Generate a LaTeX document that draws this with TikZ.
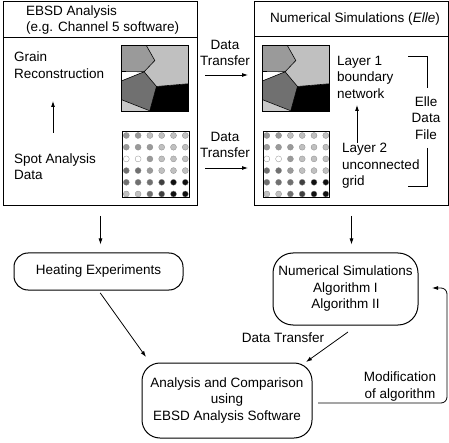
\documentclass[tikz,border=0pt]{standalone}
\usepackage{fontspec}
\setmainfont{Liberation Sans}
\usetikzlibrary{arrows.meta,calc}
\definecolor{cA}{HTML}{9A9A9A}
\definecolor{cB}{HTML}{C0C0C0}
\definecolor{cC}{HTML}{707070}
\definecolor{cD}{HTML}{101010}
\definecolor{cE}{HTML}{404040}
\definecolor{cF}{HTML}{C8C8C8}
\newcommand\grainpatch{%
  \fill[cA] (0,0) -- (24.7,0) -- (33,14.7) -- (22.3,26) -- (0,25.7) -- cycle;
  \fill[white] (0,25.7) -- (22.3,26) -- (0,35) -- cycle;
  \fill[cC] (22.3,26) -- (34.7,40.7) -- (28,65) -- (0,54) -- (0,35) -- cycle;
  \fill[black] (34.7,40.7) -- (66,38) -- (66,65) -- (28,65) -- cycle;
  \fill[cF] (0,54) -- (28,65) -- (0,65) -- cycle;
  \fill[cB] (24.7,0) -- (66,0) -- (66,38) -- (34.7,40.7) -- (22.3,26) -- (33,14.7) -- cycle;
  \draw[line width=0.6pt] (24.7,0) -- (33,14.7) -- (22.3,26) -- (0,35);
  \draw[line width=0.6pt] (0,25.7) -- (22.3,26) -- (34.7,40.7) -- (66,38);
  \draw[line width=0.6pt] (34.7,40.7) -- (28,65);
  \draw[line width=0.6pt] (0,54) -- (28,65);
}
\newcommand\dotpatch{%
  \foreach \row [count=\j from 0] in {{cA,cA,cB,cB,cB,cB},{cA,cA,cA,cB,cB,cB},{white,white,cA,cB,cB,cB},{cC,cC,cA,cB,cB,cB},{cC,cC,cC,cE,cD,cD},{cB,cB,cC,cE,cD,cD}}{
    \foreach \c [count=\i from 0] in \row {
      \filldraw[fill=\c, draw=black!45, line width=0.3pt] (3.5+11.8*\i, 3.7+11.7*\j) circle (3);
    }
  }
}
\begin{document}
\begin{tikzpicture}[x=1pt,y=-1pt,
  font=\fontsize{13.5}{16.5}\selectfont,
  bigbox/.style={draw, line width=1pt, minimum width=194pt, minimum height=204pt, inner sep=0pt, anchor=north west},
  rbox/.style={draw, line width=1pt, align=center, inner sep=0pt},
  arr/.style={-{Latex[length=6pt,width=4pt]}, line width=0.8pt},
  txt/.style={align=left, inner sep=0pt},
  img/.style={minimum width=66pt, minimum height=65pt, inner sep=0pt},
  frame/.style={draw, line width=1pt}]
\useasboundingbox (0,0) rectangle (449,443);

% big boxes
\node[bigbox] (L) at (3,1) {};
\node[bigbox] (R) at (254,1) {};
\draw[line width=1pt] (L.north west) ++(0,37) -- ++(194,0);
\draw[line width=1pt] (R.north west) ++(0,36) -- ++(194,0);

\node[txt, anchor=west] (hdrL) at (26,20) {EBSD Analysis\\(e.g. Channel 5 software)};
\node[inner sep=0pt] (hdrR) at (355,19) {Numerical Simulations (\textit{Elle})};

% images
\node[img] (g1) at (155,78.5) {};
\node[img] (d1) at (156,164.5) {};
\node[img] (g2) at (296,78.5) {};
\node[img] (d2) at (296.5,164.5) {};
\begin{scope}[shift={(g1.north west)}]\grainpatch\end{scope}
\begin{scope}[shift={(g2.north west)}]\grainpatch\end{scope}
\begin{scope}[shift={(d1.north west)}]\dotpatch\end{scope}
\begin{scope}[shift={(d2.north west)}]\dotpatch\end{scope}
\foreach \n in {g1,d1,g2,d2}{\draw[frame] (\n.north west) rectangle (\n.south east);}

% left box texts
\node[txt, anchor=west] (grain) at (14,65) {Grain\\Reconstruction};
\node[txt, anchor=west] (spot) at (14,166.5) {Spot Analysis\\Data};
\coordinate (ga) at (53,133);
\coordinate (gb) at (53,101);
\draw[arr] (ga) -- (gb);

% right box texts
\node[txt, anchor=west] (lay1) at (337,77) {Layer 1\\boundary\\network};
\node[txt, anchor=west] (lay2) at (342,166) {Layer 2\\unconnected\\grid};
\coordinate (la) at (357,143);
\coordinate (lb) at (357,105);
\draw[arr] (la) -- (lb);
\node[align=center, inner sep=0pt] (edf) at (426,118) {Elle\\Data\\File};
\coordinate (b1) at (408,56);
\coordinate (b2) at (427,88);
\coordinate (b3) at (427,148);
\coordinate (b4) at (408,186);
\draw[line width=0.8pt] (b1) -| (b2);
\draw[line width=0.8pt] (b3) |- (b4);

% data transfer between boxes
\node[align=center, inner sep=0pt] (dt1) at (225,53) {Data\\Transfer};
\node[align=center, inner sep=0pt] (dt2) at (225,145) {Data\\Transfer};
\coordinate (t1s) at (205,75);
\coordinate (t1e) at (248,75);
\coordinate (t2s) at (205,168);
\coordinate (t2e) at (248,168);
\draw[arr] (t1s) -- (t1e);
\draw[arr] (t2s) -- (t2e);

% lower boxes
\node[rbox, minimum width=169pt, minimum height=37pt, rounded corners=14pt] (heat) at (98.5,271.5) {Heating Experiments};
\node[rbox, minimum width=145pt, minimum height=72pt, rounded corners=20pt] (num) at (345.5,289) {Numerical Simulations\\Algorithm I\\Algorithm II};
\node[rbox, minimum width=170pt, minimum height=75pt, rounded corners=18pt] (ana) at (227,400.5) {Analysis and Comparison\\using\\EBSD Analysis Software};

\draw[arr, shorten <=10pt, shorten >=8pt] (L.south) -- (L.south |- heat.north);
\draw[arr, shorten <=10pt, shorten >=8pt] (R.south) -- (R.south |- num.north);

\coordinate (h2) at (146,357);
\draw[arr, shorten <=3pt] (heat.south) -- (h2);
\coordinate (n1) at (348,332);
\coordinate (n2) at (306,362);
\draw[arr] (n1) -- (n2);
\node[inner sep=0pt] (dtl) at (283,338) {Data Transfer};

\coordinate (m1) at (318,403);
\coordinate (m2) at (447,403);
\coordinate (m3) at (447,288);
\coordinate (m4) at (432,288);
\draw[arr, rounded corners=6pt] (m1) -- (m2) -- (m3) -- (m4);
\node[align=center, inner sep=0pt] (mod) at (400,386.5) {Modification\\of algorithm};
\end{tikzpicture}
\end{document}
